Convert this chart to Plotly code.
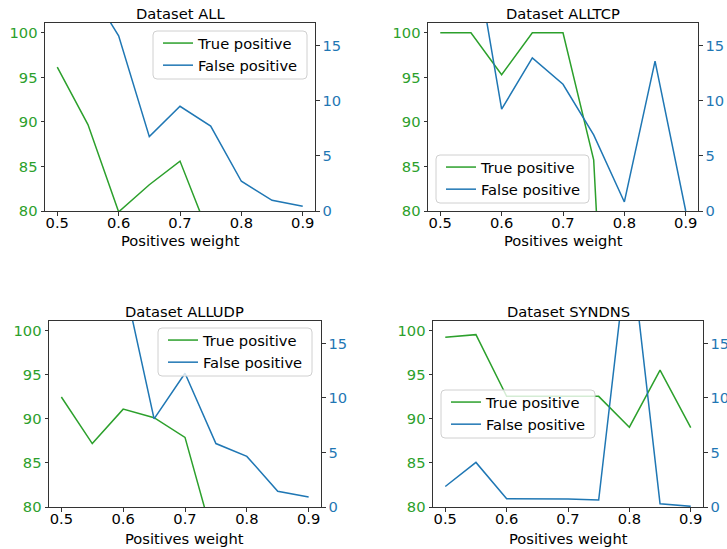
import plotly.graph_objects as go

weights = [0.5, 0.55, 0.6, 0.65, 0.7, 0.75, 0.8, 0.85, 0.9]

titles = ["Dataset ALL", "Dataset ALLTCP", "Dataset ALLUDP", "Dataset SYNDNS"]
x_label = "Positives weight"

tp_all = [96.15, 89.7, 79.9, 82.95, 85.6, 76.85, 70.0, 65.0, 60.0]
fp_all = [24.0, 20.4, 15.9, 6.75, 9.5, 7.7, 2.7, 0.97, 0.43]

tp_alltcp = [100.0, 100.0, 95.3, 100.0, 100.0, 85.75, 20.0, 15.0, 10.0]
fp_alltcp = [30.0, 25.6, 9.24, 13.9, 11.5, 6.9, 0.82, 13.6, 0.0]

tp_alludp = [92.48, 87.19, 91.1, 90.13, 87.9, 75.3, 70.0, 65.0, 60.0]
fp_alludp = [30.0, 26.0, 21.06, 8.09, 12.27, 5.82, 4.64, 1.45, 0.91]

tp_syndns = [99.25, 99.55, 92.55, 92.55, 92.55, 92.55, 89.05, 95.53, 89.0]
fp_syndns = [1.88, 4.09, 0.76, 0.75, 0.74, 0.64, 25.0, 0.3, 0.06]

tp_series = [tp_all, tp_alltcp, tp_alludp, tp_syndns]
fp_series = [fp_all, fp_alltcp, fp_alludp, fp_syndns]

left_ticks = [80, 85, 90, 95, 100]
right_ticks = [0, 5, 10, 15]
x_ticks = [0.5, 0.6, 0.7, 0.8, 0.9]

GREEN = "#2ca02c"
BLUE = "#1f77b4"
FONT = "DejaVu Sans"
FS = 14.7
W, H = 727, 549

# pixel boxes (left, right, top, bottom)
boxes = [(45, 315, 23, 211), (428, 698, 23, 211), (49, 321, 321, 507), (433, 703, 321, 507)]
xlabel_offsets = [29, 29, 31, 31]
# legend frame boxes (left, top, right, bottom) in px
legend_boxes = [(153, 31, 307, 79), (436, 155, 589, 203), (158, 328, 312, 376), (441, 390, 595, 438)]


def rounded_rect(x0, y0, x1, y1, r=4):
    px = lambda v: v / W
    py = lambda v: 1 - v / H
    return (f"M {px(x0 + r)},{py(y0)} L {px(x1 - r)},{py(y0)} Q {px(x1)},{py(y0)} {px(x1)},{py(y0 + r)} "
            f"L {px(x1)},{py(y1 - r)} Q {px(x1)},{py(y1)} {px(x1 - r)},{py(y1)} "
            f"L {px(x0 + r)},{py(y1)} Q {px(x0)},{py(y1)} {px(x0)},{py(y1 - r)} "
            f"L {px(x0)},{py(y0 + r)} Q {px(x0)},{py(y0)} {px(x0 + r)},{py(y0)} Z")


fig = go.Figure()
layout = dict(
    width=W, height=H, margin=dict(l=0, r=0, t=0, b=0, autoexpand=False),
    plot_bgcolor="white", paper_bgcolor="white",
    font=dict(family=FONT, size=FS, color="black"),
    annotations=[], shapes=[],
)

for i in range(4):
    l, r, t, b = boxes[i]
    xd = [l / W, r / W]
    yd = [1 - b / H, 1 - t / H]
    xn = "x" if i == 0 else f"x{i+1}"
    yl = f"y{2*i+1}" if i > 0 else "y"
    yr = f"y{2*i+2}"
    lg = "legend" if i == 0 else f"legend{i+1}"
    fig.add_trace(go.Scatter(x=weights, y=tp_series[i], mode="lines", name="True positive",
                             line=dict(color=GREEN, width=1.5), xaxis=xn, yaxis=yl, legend=lg))
    fig.add_trace(go.Scatter(x=weights, y=fp_series[i], mode="lines", name="False positive",
                             line=dict(color=BLUE, width=1.5), xaxis=xn, yaxis=yr, legend=lg))
    xkey = "xaxis" if i == 0 else f"xaxis{i+1}"
    ylkey = "yaxis" if i == 0 else f"yaxis{2*i+1}"
    yrkey = f"yaxis{2*i+2}"
    layout[xkey] = dict(domain=xd, range=[0.48, 0.92], anchor=yl, tickvals=x_ticks,
                        ticktext=[str(v) for v in x_ticks], showgrid=False, zeroline=False,
                        showline=True, linecolor="#333333", linewidth=1, mirror=True,
                        ticks="outside", ticklen=3.5, tickcolor="#333333", automargin=False,
                        ticklabelstandoff=-5,
                        tickfont=dict(size=FS, color="black"))
    layout[ylkey] = dict(domain=yd, range=[80, 101.1], anchor=xn, tickvals=left_ticks,
                         showgrid=False, zeroline=False, showline=True, linecolor="#333333",
                         linewidth=1, ticks="outside", ticklen=3.5, tickcolor="#333333",
                         automargin=False, tickfont=dict(size=FS, color=GREEN))
    layout[yrkey] = dict(domain=yd, range=[0, 17.06], anchor=xn, overlaying=yl, side="right",
                         tickvals=right_ticks, showgrid=False, zeroline=False, showline=True,
                         linecolor="#333333", linewidth=1, ticks="outside", ticklen=3.5,
                         automargin=False, tickcolor="#333333", tickfont=dict(size=FS, color=BLUE))
    bx0, by0, bx1, by1 = legend_boxes[i]
    layout[lg] = dict(x=(bx0 + 5) / W, y=1 - (by0 - 4) / H, xanchor="left", yanchor="top",
                      bgcolor="rgba(0,0,0,0)", borderwidth=0,
                      font=dict(size=FS, color="black"), itemwidth=30)
    layout["shapes"].append(dict(type="path", path=rounded_rect(bx0, by0, bx1, by1),
                                 xref="paper", yref="paper", layer="above",
                                 fillcolor="rgba(255,255,255,0.8)",
                                 line=dict(color="#d0d0d0", width=1)))
    layout["annotations"].append(dict(text=titles[i], x=(xd[0] + xd[1]) / 2, y=yd[1],
                                      xref="paper", yref="paper", xanchor="center",
                                      yanchor="bottom", yshift=-1, showarrow=False,
                                      font=dict(size=FS, color="black")))
    layout["annotations"].append(dict(text=x_label, x=(xd[0] + xd[1]) / 2, y=yd[0],
                                      xref="paper", yref="paper", xanchor="center",
                                      yanchor="middle", yshift=-xlabel_offsets[i], showarrow=False,
                                      font=dict(size=FS, color="black")))

fig.update_layout(**layout)
fig.write_html("out.html")
